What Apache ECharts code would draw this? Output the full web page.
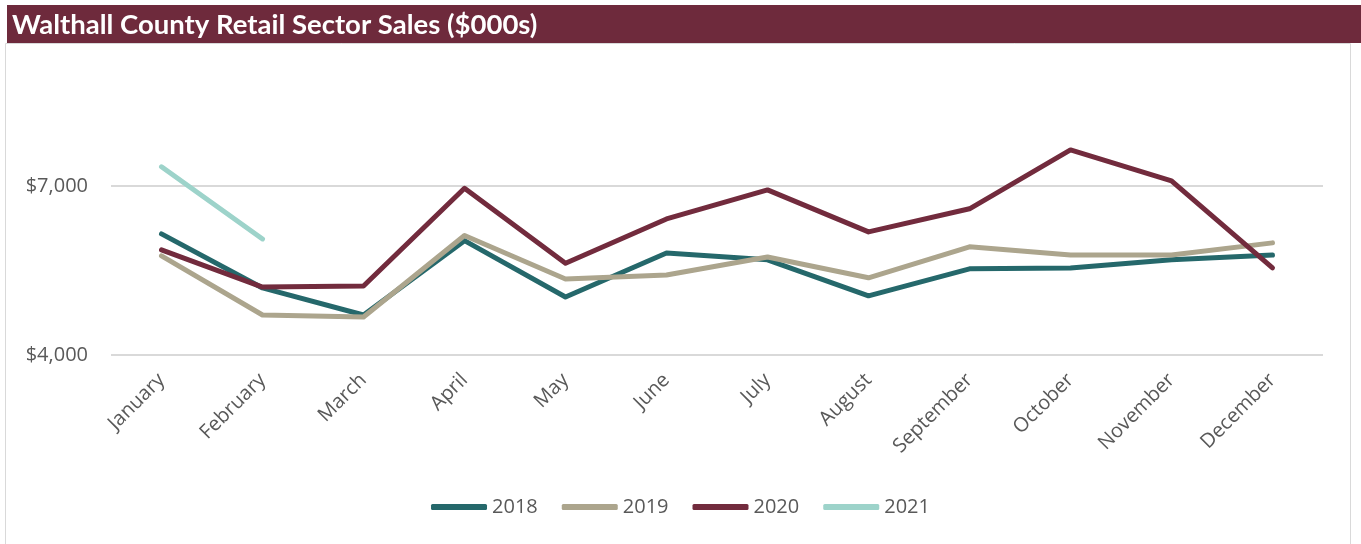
<!DOCTYPE html>
<html>
<head>
<meta charset="utf-8">
<script src="https://cdn.jsdelivr.net/npm/echarts@6/dist/echarts.min.js"></script>
<style>
html,body{margin:0;padding:0;background:#fff;}
#c{width:1361px;height:544px;}
</style>
</head>
<body>
<div id="c"></div>
<script>
const titleText = 'Walthall County Retail Sector Sales ($000s)';
const months = ['January','February','March','April','May','June','July','August','September','October','November','December'];
const s2018 = [6150, 5190, 4710, 6030, 5030, 5810, 5690, 5050, 5530, 5545, 5690, 5775];
const s2019 = [5760, 4710, 4675, 6120, 5350, 5420, 5740, 5370, 5920, 5775, 5775, 5990];
const s2020 = [5865, 5205, 5225, 6960, 5630, 6415, 6930, 6185, 6595, 7640, 7090, 5545];
const s2021 = [7340, 6060];
const yTicks = [4000, 7000];

const chart = echarts.init(document.getElementById('c'), null, {renderer:'canvas'});
const font = '"Open Sans"';
function mk(name, data, color){
  return {name, type:'line', data, symbol:'none', smooth:false,
    lineStyle:{width:5, color, cap:'round', join:'round'}, itemStyle:{color}};
}
chart.setOption({
  animation:false,
  graphic:[
    {type:'rect', shape:{x:5.5, y:43.5, width:1345, height:520}, style:{fill:'#fff', stroke:'#d9d9d9', lineWidth:1}, z:-1},
    {type:'rect', shape:{x:7, y:5, width:1354, height:38}, style:{fill:'#6e2a3c'}},
    {type:'text', x:12, y:25, style:{text:titleText, fill:'#fff', font:'bold 27.5px Lato', textVerticalAlign:'middle'}}
  ],
  grid:{left:111, right:38, top:73.3, bottom:189, containLabel:false},
  legend:{
    bottom:22, left:'center', itemWidth:56, itemHeight:6, itemGap:24, icon:'roundRect',
    textStyle:{fontFamily:font, fontSize:20, color:'#595959'},
    data:['2018','2019','2020','2021']
  },
  xAxis:{
    type:'category', data:months, boundaryGap:true,
    axisLine:{show:false}, axisTick:{show:false},
    axisLabel:{rotate:45, margin:22, fontFamily:font, fontSize:20, color:'#595959', interval:0}
  },
  yAxis:{
    type:'value', min:4000, max:9000, interval:3000,
    axisLine:{show:false}, axisTick:{show:false},
    splitLine:{show:true, showMaxLine:false, lineStyle:{color:'#d9d9d9', width:2}},
    axisLabel:{margin:23, fontFamily:font, fontSize:20, color:'#595959',
      formatter:function(v){ return yTicks.indexOf(v) >= 0 ? '$' + v.toLocaleString('en-US') : ''; }}
  },
  series:[
    mk('2018', s2018, '#25686b'),
    mk('2019', s2019, '#aca58d'),
    mk('2020', s2020, '#722b3d'),
    mk('2021', s2021, '#9dd3ca')
  ]
});
</script>
</body>
</html>
